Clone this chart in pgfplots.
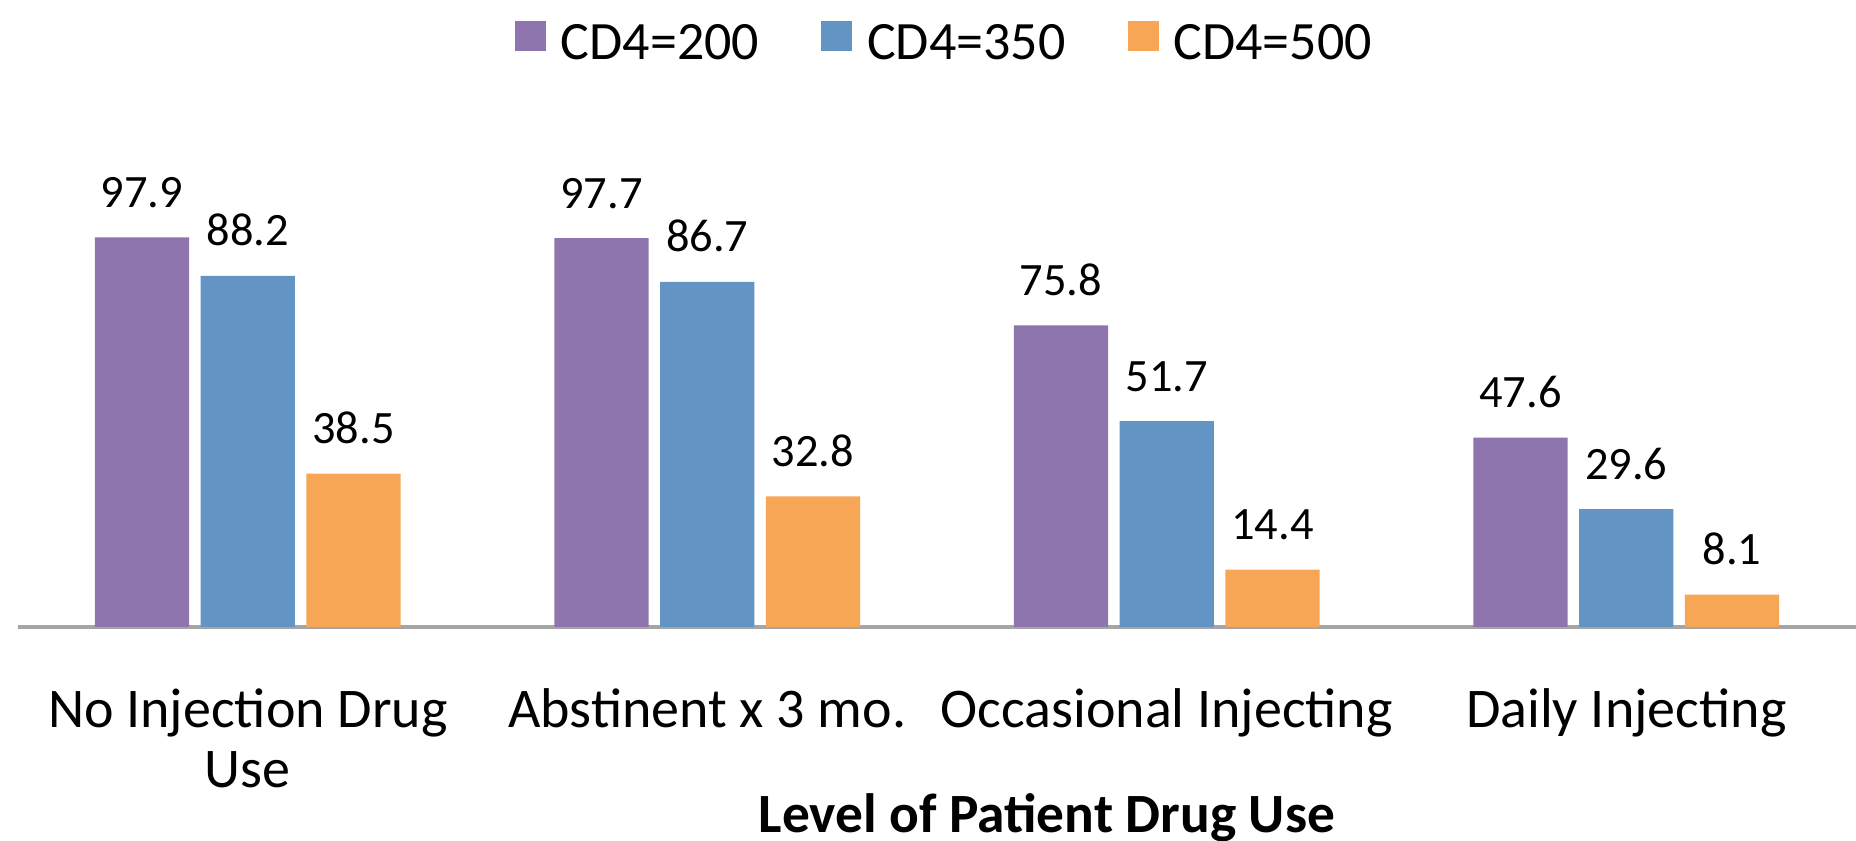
\documentclass[border=0pt]{standalone}
\usepackage{fontspec}
\setmainfont{Carlito}
\usepackage{pgfplots}
\pgfplotsset{compat=1.18}
\definecolor{cpurple}{RGB}{143,117,174}
\definecolor{cblue}{RGB}{98,149,196}
\definecolor{corange}{RGB}{246,166,84}
\definecolor{caxis}{RGB}{165,165,165}
\begin{document}
\begin{tikzpicture}
\useasboundingbox (-4.5pt,-53.5pt) rectangle (459.5pt,156.75pt);
\begin{axis}[
  at={(0pt,0pt)}, anchor=south west,
  scale only axis,
  width=459.5pt, height=99.5pt,
  xmin=-0.5, xmax=3.5, ymin=0, ymax=100,
  clip=false,
  axis x line=bottom, axis y line=none,
  axis line style={-, draw=caxis, line width=0.8pt},
  xtick={0,1,2,3},
  xticklabels={{\renewcommand{\arraystretch}{1}\setlength{\tabcolsep}{0pt}\begin{tabular}[t]{c}No Injection Drug\\Use\end{tabular}},{Abstinent x 3 mo.},{Occasional Injecting},{Daily Injecting}},
  xtick style={draw=none},
  x tick label style={font=\fontsize{14}{15}\selectfont, anchor=base, inner sep=0pt, yshift=-20.75pt},
  xlabel={Level of Patient Drug Use},
  xlabel style={at={(axis description cs:0.5598,0)}, anchor=base, inner sep=0pt, yshift=-51.5pt, font=\fontsize{13.85}{15}\selectfont\bfseries},
  ytick=\empty,
  ybar, bar width=0.205,
  /pgf/number format/assume math mode=true,
  nodes near coords={\pgfmathprintnumber[fixed,precision=1,fixed zerofill]{\pgfplotspointmeta}},
  every node near coord/.append style={font=\fontsize{11.6}{13}\selectfont, text=black, anchor=base, inner sep=0pt, yshift=7.5pt},
  legend columns=3,
  legend style={draw=none, fill=none, at={(axis description cs:0.26986,1.466)}, anchor=west, inner sep=0pt,
    font=\fontsize{13.5}{15}\selectfont,
    nodes={inner sep=0pt},
    /tikz/every odd column/.append style={column sep=3.75pt},
    /tikz/every even column/.append style={column sep=15.5pt}},
  legend image code/.code={\fill[#1] (0pt,-1.5pt) rectangle (7.75pt,6pt);},
]
\addplot[fill=cpurple, draw=none, bar shift=-0.23] coordinates {(0,97.9) (1,97.7) (2,75.8) (3,47.6)};
\addplot[fill=cblue, draw=none, bar shift=0] coordinates {(0,88.2) (1,86.7) (2,51.7) (3,29.6)};
\addplot[fill=corange, draw=none, bar shift=0.23] coordinates {(0,38.5) (1,32.8) (2,14.4) (3,8.1)};
\legend{CD4=200, CD4=350, CD4=500}
\end{axis}
\end{tikzpicture}
\end{document}
